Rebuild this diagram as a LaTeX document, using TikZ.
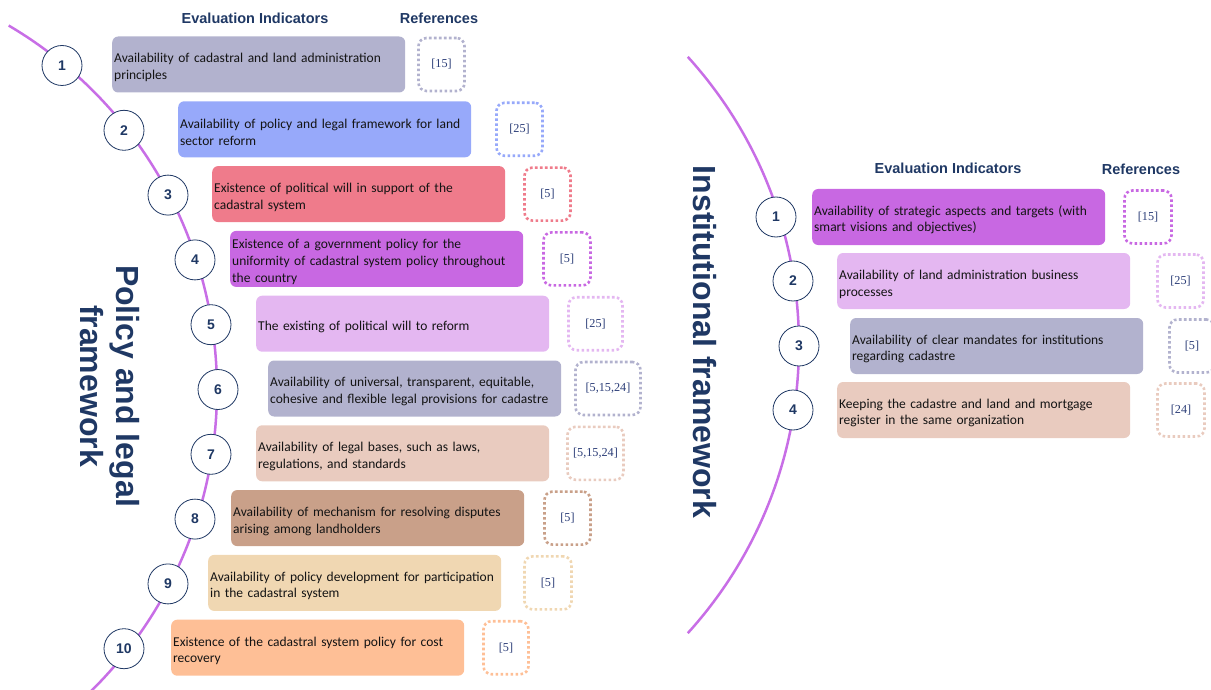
\documentclass[tikz,border=0pt]{standalone}
\usepackage{fontspec}
\setmainfont{Carlito}
\newfontfamily\headfont{Liberation Sans}
\newfontfamily\reffont{Liberation Serif}
\usepackage{tikz}
\usetikzlibrary{calc, positioning}
\usepackage{xcolor}
\hyphenpenalty=10000

\definecolor{navy}{RGB}{31,56,100}
\definecolor{refblue}{RGB}{44,62,120}
\definecolor{arcpurple}{RGB}{200,110,230}
\definecolor{lav}{RGB}{178,178,206}
\definecolor{peri}{RGB}{151,169,250}
\definecolor{rose}{RGB}{239,123,139}
\definecolor{grape}{RGB}{200,104,226}
\definecolor{lilac}{RGB}{228,183,241}
\definecolor{blush}{RGB}{233,203,191}
\definecolor{tan}{RGB}{201,160,137}
\definecolor{sand}{RGB}{240,215,178}
\definecolor{apricot}{RGB}{254,191,150}

\begin{document}
\begin{tikzpicture}[x=1pt,y=-1pt]
        % Styles
        \tikzset{
          ind/.style={
            rounded corners=6pt,
            anchor=west,
            inner xsep=2pt, inner ysep=0pt,
            text width=289pt, minimum height=56pt,
            align=left, text=black!92,
            font=\fontsize{13.5}{16.7}\selectfont,
            execute at begin node={\rule{0pt}{15.5pt}}
          },
          refbox/.style={
            draw, rounded corners=8pt,
            line width=2.6pt, dash pattern=on 2.6pt off 2.4pt,
            minimum height=53pt, inner sep=0pt,
            text=refblue,
            font=\reffont\fontsize{12.2}{14}\selectfont
          },
          num/.style={
            circle, draw=navy, line width=0.8pt, fill=white,
            minimum size=40pt, inner sep=0pt,
            text=navy,
            font=\headfont\bfseries\fontsize{14}{16}\selectfont
          },
          head/.style={
            text=navy,
            font=\headfont\bfseries\fontsize{14.5}{17}\selectfont
          },
          frametitle/.style={
            rotate=-90, align=center, text=navy,
            font=\headfont\bfseries\fontsize{32}{36}\selectfont
          },
          arcline/.style={draw=arcpurple, line width=2.5pt}
        }

        \clip (0,0) rectangle (1211,690);

        % arcs behind the numbered circles
        \coordinate (lc) at (-206,390);
        \coordinate (rc) at (370,345);
        \draw[arcline] (lc) ++(-59.5:423) arc[start angle=-59.5, end angle=47, radius=423];
        \draw[arcline] (rc) ++(-42.2:429) arc[start angle=-42.2, end angle=42.2, radius=429];

        % frame titles
        \node[frametitle] (ptitle) at (110,386) {Policy and legal\\framework};
        \node[frametitle] (ititle) at (705,342) {Institutional framework};

        % column headers
        \node[head] (pind) at (255,18) {Evaluation Indicators};
        \node[head] (pref) at (439,18) {References};
        \node[head] (iind) at (948,168) {Evaluation Indicators};
        \node[head] (iref) at (1141,169) {References};

        % policy and legal framework rows
        \foreach \i/\cx/\bx/\col/\txt/\rx/\rw/\rt in {
          1/62/112/lav/{Availability of cadastral and land administration\\principles}/441.5/46/{[15]},
          2/124/178/peri/{Availability of policy and legal framework for land\\sector reform}/519.5/46/{[25]},
          3/168/212/rose/{Existence of political will in support of the\\cadastral system}/547.5/46/{[5]},
          4/195/230/grape/{Existence of a government policy for the\\uniformity of cadastral system policy throughout\\the country}/567/47/{[5]},
          5/211/256/lilac/{The existing of political will to reform}/595.5/54/{[25]},
          6/218/268/lav/{Availability of universal, transparent, equitable,\\cohesive and flexible legal provisions for cadastre}/608/65/{[5,15,24]},
          7/211/256/blush/{Availability of legal bases, such as laws,\\regulations, and standards}/595.5/56/{[5,15,24]},
          8/195/231/tan/{Availability of mechanism for resolving disputes\\arising among landholders}/567.5/46/{[5]},
          9/168/208/sand/{Availability of policy development for participation\\in the cadastral system}/548/47/{[5]},
          10/124/171/apricot/{Existence of the cadastral system policy for cost\\recovery}/506/45/{[5]}
        }{
          \pgfmathsetmacro\y{64.5+(\i-1)*64.8}
          \node[num] (p\i) at (\cx,\y+1) {\i};
          \node[ind, fill=\col] (pb\i) at (\bx,\y) {\txt};
          \node[refbox, draw=\col, minimum width=\rw pt] (pr\i) at (\rx,\y) {\rt};
        }

        % institutional framework rows
        \foreach \i/\cx/\bx/\col/\txt/\rx/\rw/\rt/\y in {
          1/776/812/grape/{Availability of strategic aspects and targets (with\\smart visions and objectives)}/1148/47/{[15]}/217,
          2/793/837/lilac/{Availability of land administration business\\processes}/1180.5/46/{[25]}/281,
          3/799/850/lav/{Availability of clear mandates for institutions\\regarding cadastre}/1192/45/{[5]}/346,
          4/793/837/blush/{Keeping the cadastre and land and mortgage\\register in the same organization}/1181/47/{[24]}/410
        }{
          \node[num] (i\i) at (\cx,\y) {\i};
          \node[ind, fill=\col] (ib\i) at (\bx,\y) {\txt};
          \node[refbox, draw=\col, minimum width=\rw pt] (ir\i) at (\rx,\y) {\rt};
        }
\end{tikzpicture}
\end{document}
